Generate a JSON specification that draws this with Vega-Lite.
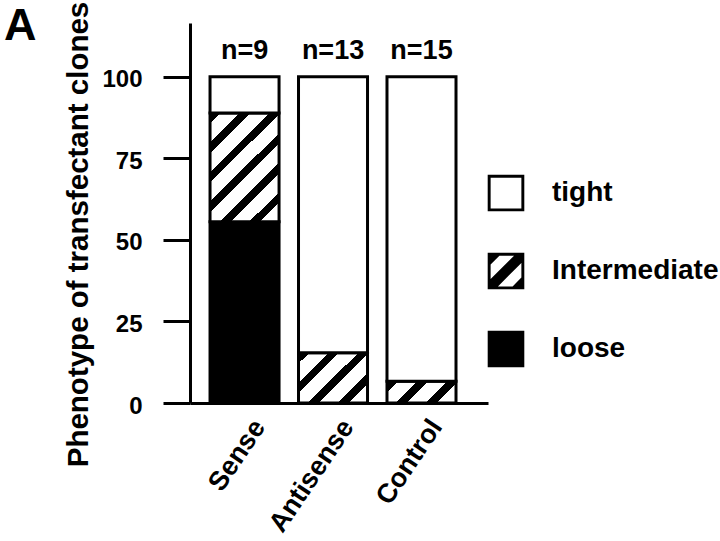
{
  "$schema": "https://vega.github.io/schema/vega-lite/v6.json",
  "width": 298,
  "height": 380,
  "autosize": "none",
  "padding": {"left": 190, "top": 23, "right": 232, "bottom": 138},
  "background": "white",
  "config": {
    "view": {"stroke": null},
    "font": "Liberation Sans",
    "axis": {"domainColor": "black", "tickColor": "black", "labelColor": "black", "titleColor": "black", "labelFont": "Liberation Sans", "titleFont": "Liberation Sans", "grid": false},
    "legend": {"labelFont": "Liberation Sans"}
  },
  "title": {"text": "A", "anchor": "start", "frame": "group", "fontSize": 45, "font": "Liberation Sans", "fontWeight": "bold", "color": "black", "dx": -186, "dy": 88, "offset": 0, "baseline": "alphabetic"},
  "datasets": {
    "bars": [
      {"group": "Sense", "phenotype": "loose", "percent": 55.6, "rank": 1},
      {"group": "Sense", "phenotype": "Intermediate", "percent": 33.3, "rank": 2},
      {"group": "Sense", "phenotype": "tight", "percent": 11.1, "rank": 3},
      {"group": "Antisense", "phenotype": "Intermediate", "percent": 15.4, "rank": 2},
      {"group": "Antisense", "phenotype": "tight", "percent": 84.6, "rank": 3},
      {"group": "Control", "phenotype": "Intermediate", "percent": 6.7, "rank": 2},
      {"group": "Control", "phenotype": "tight", "percent": 93.3, "rank": 3}
    ],
    "counts": [
      {"group": "Sense", "label": "n=9"},
      {"group": "Antisense", "label": "n=13"},
      {"group": "Control", "label": "n=15"}
    ]
  },
  "layer": [
    {
      "data": {"name": "bars"},
      "mark": {"type": "bar", "stroke": "black", "strokeWidth": 3},
      "encoding": {
        "x": {
          "field": "group", "type": "nominal", "sort": ["Sense", "Antisense", "Control"],
          "scale": {"type": "band", "paddingInner": 0.22, "paddingOuter": 0.294, "align": 0.385},
          "axis": {"title": null, "ticks": false, "domainWidth": 3, "labelAngle": -56, "labelAlign": "right", "labelBaseline": "middle", "labelFontSize": 27, "labelFontWeight": "bold", "labelPadding": 19, "labelOffset": 15}
        },
        "y": {
          "field": "percent", "type": "quantitative", "stack": "zero",
          "scale": {"domain": [0, 116.5], "nice": false},
          "axis": {"values": [0, 25, 50, 75, 100], "tickSize": 27, "tickWidth": 3, "domainWidth": 3, "labelFontSize": 24, "labelFontWeight": "bold", "labelPadding": 21, "labelOffset": 3, "title": "Phenotype  of transfectant clones", "titleFontSize": 29.5, "titleFontWeight": "bold", "titleX": -103, "titleY": 211, "titleAngle": -90, "titleAlign": "center", "titleBaseline": "alphabetic"}
        },
        "order": {"field": "rank", "type": "quantitative"},
        "fill": {
          "field": "phenotype", "type": "nominal",
          "scale": {"domain": ["tight", "Intermediate", "loose"], "range": ["black", "black", "black"]},
          "legend": {
            "orient": "none", "legendX": 296, "legendY": 150, "title": null, "padding": 0, "offset": 0,
            "symbolSize": 1340, "symbolStrokeColor": "black", "symbolStrokeWidth": 3, "symbolOpacity": 1,
            "labelFontSize": 28, "labelFontWeight": "bold", "labelColor": "black", "labelOffset": 26, "labelLimit": 400, "rowPadding": 28
          },
          "condition": [
            {"test": "datum.phenotype === 'tight'", "value": "white"},
            {"test": "datum.group === 'Sense' && datum.phenotype === 'Intermediate'", "value": {"gradient": "linear", "x1": 0, "y1": 0, "x2": 0.736, "y2": 1.167, "stops": [
              {"offset": 0, "color": "black"}, {"offset": 0.06, "color": "black"}, {"offset": 0.06, "color": "white"}, {"offset": 0.167, "color": "white"},
              {"offset": 0.167, "color": "black"}, {"offset": 0.227, "color": "black"}, {"offset": 0.227, "color": "white"}, {"offset": 0.333, "color": "white"},
              {"offset": 0.333, "color": "black"}, {"offset": 0.393, "color": "black"}, {"offset": 0.393, "color": "white"}, {"offset": 0.5, "color": "white"},
              {"offset": 0.5, "color": "black"}, {"offset": 0.56, "color": "black"}, {"offset": 0.56, "color": "white"}, {"offset": 0.667, "color": "white"},
              {"offset": 0.667, "color": "black"}, {"offset": 0.727, "color": "black"}, {"offset": 0.727, "color": "white"}, {"offset": 0.833, "color": "white"},
              {"offset": 0.833, "color": "black"}, {"offset": 0.893, "color": "black"}, {"offset": 0.893, "color": "white"}, {"offset": 1, "color": "white"}
            ]}},
            {"test": "datum.group === 'Antisense' && datum.phenotype === 'Intermediate'", "value": {"gradient": "linear", "x1": 0, "y1": 0, "x2": 1.128, "y2": 0.826, "stops": [
              {"offset": 0, "color": "black"}, {"offset": 0.09, "color": "black"}, {"offset": 0.09, "color": "white"}, {"offset": 0.25, "color": "white"},
              {"offset": 0.25, "color": "black"}, {"offset": 0.34, "color": "black"}, {"offset": 0.34, "color": "white"}, {"offset": 0.5, "color": "white"},
              {"offset": 0.5, "color": "black"}, {"offset": 0.59, "color": "black"}, {"offset": 0.59, "color": "white"}, {"offset": 0.75, "color": "white"},
              {"offset": 0.75, "color": "black"}, {"offset": 0.84, "color": "black"}, {"offset": 0.84, "color": "white"}, {"offset": 1, "color": "white"}
            ]}},
            {"test": "datum.group === 'Control' && datum.phenotype === 'Intermediate'", "value": {"gradient": "linear", "x1": 0, "y1": 0, "x2": 1.197, "y2": 0.38, "stops": [
              {"offset": 0, "color": "black"}, {"offset": 0.12, "color": "black"}, {"offset": 0.12, "color": "white"}, {"offset": 0.333, "color": "white"},
              {"offset": 0.333, "color": "black"}, {"offset": 0.453, "color": "black"}, {"offset": 0.453, "color": "white"}, {"offset": 0.667, "color": "white"},
              {"offset": 0.667, "color": "black"}, {"offset": 0.787, "color": "black"}, {"offset": 0.787, "color": "white"}, {"offset": 1, "color": "white"}
            ]}}
          ]
        }
      }
    },
    {
      "data": {"name": "bars"},
      "mark": {"type": "point", "filled": true, "opacity": 0, "stroke": "black", "strokeWidth": 3},
      "encoding": {
        "x": {"field": "group", "type": "nominal", "sort": ["Sense", "Antisense", "Control"]},
        "y": {"datum": 50, "type": "quantitative"},
        "fill": {
          "field": "phenotype", "type": "nominal",
          "scale": {"domain": ["tight", "Intermediate", "loose"], "range": ["black", "black", "black"]},
          "legend": {
            "orient": "none", "legendX": 296, "legendY": 150, "title": null, "padding": 0, "offset": 0,
            "symbolSize": 1340, "symbolStrokeColor": "black", "symbolStrokeWidth": 3, "symbolOpacity": 1,
            "labelFontSize": 28, "labelFontWeight": "bold", "labelColor": "black", "labelOffset": 26, "labelLimit": 400, "rowPadding": 28
          }
        },
        "shape": {
          "field": "phenotype", "type": "nominal",
          "scale": {"domain": ["tight", "Intermediate", "loose"], "range": [
            "M-1,-1L1,-1L1,1L-1,1ZM-0.84,-0.84L-0.84,0.84L0.84,0.84L0.84,-0.84Z",
            "M-1,-1L1,-1L1,1L-1,1ZM-0.84,-0.36L-0.84,0.44L0.44,-0.84L-0.36,-0.84ZM0.84,-0.44L-0.44,0.84L0.36,0.84L0.84,0.36Z",
            "square"
          ]},
          "legend": {
            "orient": "none", "legendX": 296, "legendY": 150, "title": null, "padding": 0, "offset": 0,
            "symbolSize": 1340, "symbolStrokeColor": "black", "symbolStrokeWidth": 3, "symbolOpacity": 1,
            "labelFontSize": 28, "labelFontWeight": "bold", "labelColor": "black", "labelOffset": 26, "labelLimit": 400, "rowPadding": 28
          }
        }
      }
    },
    {
      "data": {"name": "counts"},
      "mark": {"type": "text", "baseline": "bottom", "dy": -12, "fontSize": 27, "fontWeight": "bold", "font": "Liberation Sans", "color": "black"},
      "encoding": {
        "x": {"field": "group", "type": "nominal", "sort": ["Sense", "Antisense", "Control"]},
        "y": {"datum": 100, "type": "quantitative"},
        "text": {"field": "label", "type": "nominal"}
      }
    }
  ]
}
